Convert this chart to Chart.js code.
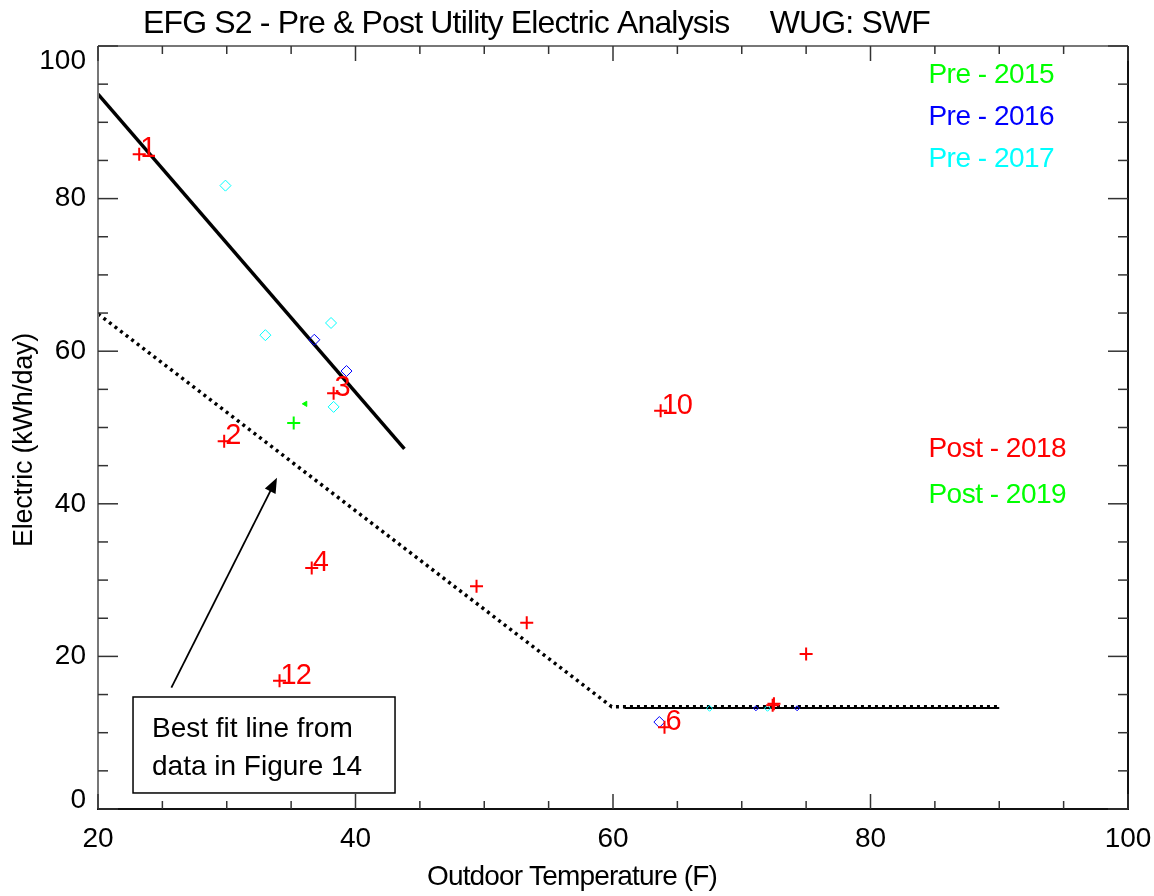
<!DOCTYPE html>
<html>
<head>
<meta charset="utf-8">
<title>EFG S2 - Pre & Post Utility Electric Analysis</title>
<script src="https://cdn.jsdelivr.net/npm/chart.js@4.4.1/dist/chart.umd.min.js"></script>
<style>
html, body { margin: 0; padding: 0; background: #fff; }
#wrap { width: 1154px; height: 896px; position: relative; }
</style>
</head>
<body>
<div id="wrap"><canvas id="myChart"></canvas></div>
<script>
var FONT = "'Liberation Sans', Arial, Helvetica, sans-serif";

// Post-2018 readings (red +), with the month tags written next to some of them
var post2018Temp = [23.2, 29.8, 38.3, 36.6, 34.1, 49.4, 53.3, 64.0, 63.7, 72.4, 72.5, 75.0];
var post2018Elec = [85.8, 48.2, 54.5, 31.6, 16.8, 29.2, 24.4, 10.7, 52.2, 13.6, 13.8, 20.3];
var post2018Tags = ['1', '2', '3', '4', '12', '', '', '6', '10', '', '', ''];

var post2019Temp = [35.2];
var post2019Elec = [50.6];

var pre2015Temp = [36.1];
var pre2015Elec = [53.1];

var pre2016Temp = [36.8, 39.3, 63.6, 71.1, 74.3];
var pre2016Elec = [61.5, 57.4, 11.4, 13.2, 13.2];

var pre2017Temp = [29.9, 33.0, 38.1, 38.3, 67.5, 72.0];
var pre2017Elec = [81.7, 62.1, 63.7, 52.7, 13.2, 13.2];

// best fit lines
var preFitTemp = [20, 43.8];
var preFitElec = [93.7, 47.2];
var postFitTemp = [20, 59.9, 90];
var postFitElec = [64.9, 13.4, 13.4];
var baseTemp = [60.9, 90];
var baseElec = [13.25, 13.25];

var xTicks = [20, 40, 60, 80, 100];
var yTicks = [0, 20, 40, 60, 80, 100];

function pts(xs, ys) {
    return xs.map(function (x, i) { return { x: x, y: ys[i] }; });
}

// fit text to a given width by tightening the letter spacing
function fitText(ctx, text, x, y, width) {
    ctx.letterSpacing = '0px';
    var w = ctx.measureText(text).width;
    ctx.letterSpacing = ((width - w) / text.length) + 'px';
    ctx.fillText(text, x, y);
    ctx.letterSpacing = '0px';
}

function line(ctx, x1, y1, x2, y2) {
    ctx.beginPath();
    ctx.moveTo(x1, y1);
    ctx.lineTo(x2, y2);
    ctx.stroke();
}

var decor = {
    id: 'decor',
    afterDatasetsDraw: function (chart) {
        var ctx = chart.ctx, a = chart.chartArea;
        var xs = chart.scales.x, ys = chart.scales.y;
        ctx.save();

        // frame
        ctx.lineWidth = 2;
        ctx.strokeStyle = '#777';
        line(ctx, a.left, a.top, a.left, a.bottom);
        line(ctx, a.left, a.top, a.right, a.top);
        ctx.strokeStyle = '#111';
        line(ctx, a.right, a.top, a.right, a.bottom);
        line(ctx, a.left - 1, a.bottom, a.right + 1, a.bottom);

        // inward ticks on all four sides, minor every 5
        ctx.lineWidth = 1.5;
        ctx.strokeStyle = '#333';
        var v, p, len;
        for (v = xs.min; v <= xs.max; v += 5) {
            p = xs.getPixelForValue(v);
            len = xTicks.indexOf(v) >= 0 ? 15 : 8;
            line(ctx, p, a.bottom, p, a.bottom - len);
            line(ctx, p, a.top, p, a.top + len);
        }
        for (v = ys.min; v <= ys.max; v += 5) {
            p = ys.getPixelForValue(v);
            len = yTicks.indexOf(v) >= 0 ? 20 : 10;
            line(ctx, a.left, p, a.left + len, p);
            line(ctx, a.right, p, a.right - len, p);
        }

        // y tick labels, end labels kept inside the frame
        ctx.fillStyle = '#000';
        ctx.font = '28px ' + FONT;
        ctx.textAlign = 'right';
        ctx.textBaseline = 'middle';
        yTicks.forEach(function (t) {
            var py = Math.min(Math.max(ys.getPixelForValue(t), a.top + 15), a.bottom - 9);
            ctx.fillText(String(t), a.left - 12, py);
        });

        // number tags beside the post-2018 points
        var meta = chart.getDatasetMeta(3);
        ctx.fillStyle = '#ff0000';
        ctx.textAlign = 'left';
        ctx.textBaseline = 'alphabetic';
        ctx.font = '29px ' + FONT;
        ctx.letterSpacing = '-1px';
        post2018Tags.forEach(function (tag, i) {
            if (!tag) return;
            var el = meta.data[i];
            ctx.fillText(tag, el.x + 1, el.y + 3);
        });
        ctx.letterSpacing = '0px';

        // legend text in dataset colours
        var rows = chart.options.plugins.decor.legendRows;
        ctx.font = '28px ' + FONT;
        ctx.letterSpacing = '-0.5px';
        rows.forEach(function (r) {
            var ds = chart.data.datasets[r.dataset];
            ctx.fillStyle = ds.borderColor;
            ctx.fillText(ds.label, xs.getPixelForValue(r.x), ys.getPixelForValue(r.y));
        });
        ctx.letterSpacing = '0px';

        // note box and arrow
        var note = chart.options.plugins.decor.note;
        var bx1 = xs.getPixelForValue(note.box[0]), by1 = ys.getPixelForValue(note.box[1]);
        var bx2 = xs.getPixelForValue(note.box[2]), by2 = ys.getPixelForValue(note.box[3]);
        ctx.fillStyle = '#fff';
        ctx.fillRect(bx1, by1, bx2 - bx1, by2 - by1);
        ctx.strokeStyle = '#000';
        ctx.lineWidth = 1.5;
        ctx.strokeRect(bx1, by1, bx2 - bx1, by2 - by1);
        ctx.fillStyle = '#000';
        ctx.font = '28px ' + FONT;
        note.lines.forEach(function (t, i) {
            ctx.fillText(t, bx1 + 19, by1 + 40 + i * 38);
        });

        var ax1 = xs.getPixelForValue(note.arrow[0]), ay1 = ys.getPixelForValue(note.arrow[1]);
        var ax2 = xs.getPixelForValue(note.arrow[2]), ay2 = ys.getPixelForValue(note.arrow[3]);
        var ang = Math.atan2(ay2 - ay1, ax2 - ax1);
        ctx.lineWidth = 1.8;
        line(ctx, ax1, ay1, ax2 - 10 * Math.cos(ang), ay2 - 10 * Math.sin(ang));
        ctx.beginPath();
        ctx.moveTo(ax2, ay2);
        ctx.lineTo(ax2 - 15 * Math.cos(ang) + 6 * Math.sin(ang), ay2 - 15 * Math.sin(ang) - 6 * Math.cos(ang));
        ctx.lineTo(ax2 - 15 * Math.cos(ang) - 6 * Math.sin(ang), ay2 - 15 * Math.sin(ang) + 6 * Math.cos(ang));
        ctx.closePath();
        ctx.fill();

        ctx.restore();
    },
    afterDraw: function (chart) {
        var ctx = chart.ctx;
        ctx.save();
        ctx.fillStyle = '#000';
        ctx.textAlign = 'left';
        ctx.textBaseline = 'alphabetic';

        ctx.font = '32px ' + FONT;
        fitText(ctx, 'EFG S2 - Pre & Post Utility Electric Analysis     WUG: SWF', 143, 33, 787);

        ctx.font = '28px ' + FONT;
        fitText(ctx, 'Outdoor Temperature (F)', 427, 885, 290);

        ctx.translate(32, 547);
        ctx.rotate(-Math.PI / 2);
        ctx.font = '27px ' + FONT;
        fitText(ctx, 'Electric (kWh/day)', 0, 0, 214);
        ctx.restore();
    }
};

var ctx = document.getElementById('myChart');

var myChart = new Chart(ctx, {
    type: 'scatter',
    data: {
        datasets: [
            {
                label: 'Pre - 2015',
                data: pts(pre2015Temp, pre2015Elec),
                borderColor: '#00ff00',
                backgroundColor: '#00ff00',
                pointStyle: 'triangle',
                rotation: 270,
                pointRadius: 3,
                borderWidth: 1,
                order: 1
            },
            {
                label: 'Pre - 2016',
                data: pts(pre2016Temp, pre2016Elec),
                borderColor: '#0000ff',
                backgroundColor: 'rgba(0,0,0,0)',
                pointStyle: 'rectRot',
                pointRadius: [5.5, 5.5, 5.5, 2.5, 2.5],
                borderWidth: 1,
                order: 1
            },
            {
                label: 'Pre - 2017',
                data: pts(pre2017Temp, pre2017Elec),
                borderColor: '#00ffff',
                backgroundColor: 'rgba(0,0,0,0)',
                pointStyle: 'rectRot',
                pointRadius: [5.5, 5.5, 5.5, 5.5, 3, 3],
                borderWidth: 1,
                order: 1
            },
            {
                label: 'Post - 2018',
                data: pts(post2018Temp, post2018Elec),
                borderColor: '#ff0000',
                backgroundColor: '#ff0000',
                pointStyle: 'cross',
                pointRadius: 6.5,
                borderWidth: 2,
                order: 0
            },
            {
                label: 'Post - 2019',
                data: pts(post2019Temp, post2019Elec),
                borderColor: '#00ff00',
                backgroundColor: '#00ff00',
                pointStyle: 'cross',
                pointRadius: 6.5,
                borderWidth: 2,
                order: 0
            },
            {
                label: 'pre fit',
                data: pts(preFitTemp, preFitElec),
                showLine: true,
                borderColor: '#000',
                borderWidth: 3.5,
                pointRadius: 0,
                order: 5
            },
            {
                label: 'base',
                data: pts(baseTemp, baseElec),
                showLine: true,
                borderColor: '#000',
                borderWidth: 2,
                pointRadius: 0,
                order: 5
            },
            {
                label: 'post fit',
                data: pts(postFitTemp, postFitElec),
                showLine: true,
                borderColor: '#000',
                borderWidth: 3.5,
                borderDash: [3, 4],
                borderCapStyle: 'butt',
                borderJoinStyle: 'miter',
                pointRadius: 0,
                order: 5
            }
        ]
    },
    options: {
        responsive: true,
        maintainAspectRatio: false,
        animation: false,
        events: [],
        devicePixelRatio: 1,
        layout: { padding: { top: 46, right: 26, left: 0, bottom: 0 } },
        scales: {
            x: {
                type: 'linear',
                min: 20,
                max: 100,
                afterBuildTicks: function (s) { s.ticks = xTicks.map(function (v) { return { value: v }; }); },
                afterFit: function (s) { s.height = 87; s.paddingLeft = 0; s.paddingRight = 0; },
                grid: { display: false, drawTicks: false },
                border: { display: false },
                ticks: {
                    color: '#000',
                    font: { size: 28, family: FONT },
                    padding: 13,
                    maxRotation: 0,
                    callback: function (v) { return String(v); }
                }
            },
            y: {
                type: 'linear',
                min: 0,
                max: 100,
                afterBuildTicks: function (s) { s.ticks = yTicks.map(function (v) { return { value: v }; }); },
                afterFit: function (s) { s.width = 98; s.paddingTop = 0; s.paddingBottom = 0; },
                grid: { display: false, drawTicks: false },
                border: { display: false },
                ticks: { display: false }
            }
        },
        plugins: {
            legend: { display: false },
            tooltip: { enabled: false },
            title: { display: false },
            decor: {
                legendRows: [
                    { dataset: 0, x: 84.5, y: 95.1 },
                    { dataset: 1, x: 84.5, y: 89.6 },
                    { dataset: 2, x: 84.5, y: 84.1 },
                    { dataset: 3, x: 84.5, y: 46.1 },
                    { dataset: 4, x: 84.5, y: 40.1 }
                ],
                note: {
                    box: [22.72, 14.68, 43.07, 2.1],
                    arrow: [25.7, 15.9, 33.9, 43.4],
                    lines: ['Best fit line from', 'data in Figure 14']
                }
            }
        }
    },
    plugins: [decor]
});
</script>
</body>
</html>
